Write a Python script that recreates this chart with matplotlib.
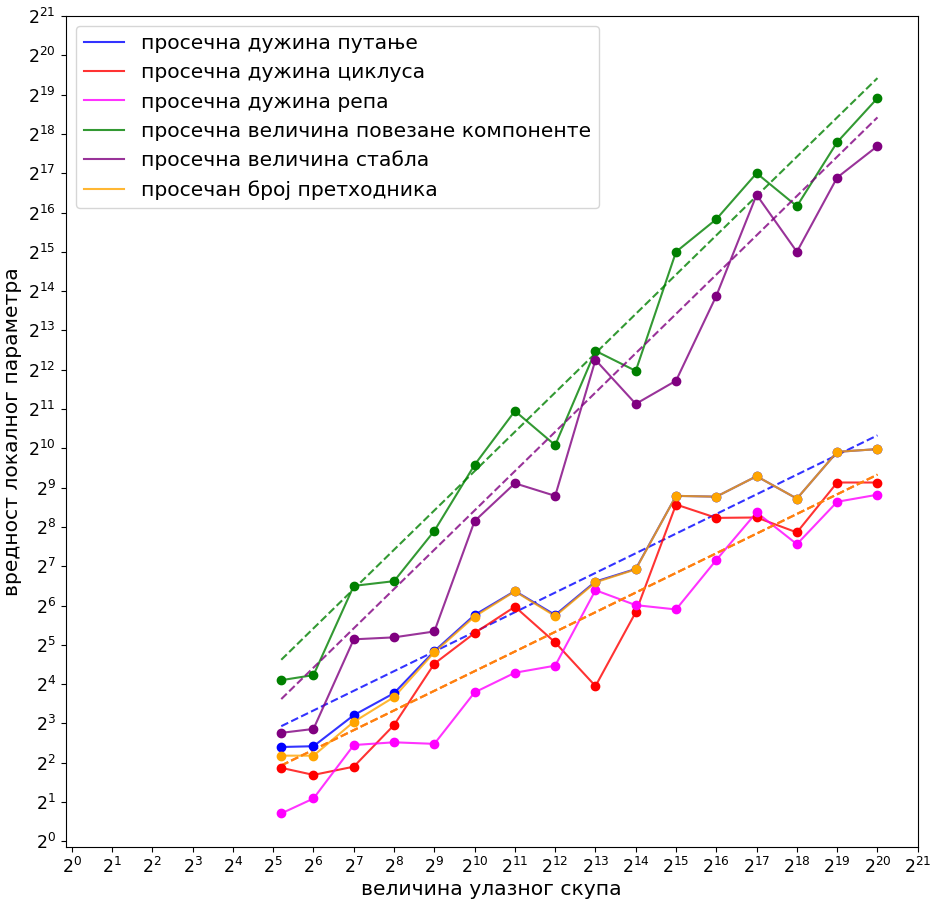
import numpy as np
import matplotlib
matplotlib.use('Agg')
import matplotlib.pyplot as plt

# ------ data (log2 of the measured averages) ------
sizes_log2 = [5.2, 6, 7, 8, 9, 10, 11, 12, 13, 14, 15, 16, 17, 18, 19, 20]

path_len = [2.40, 2.42, 3.21, 3.77, 4.84, 5.76, 6.37, 5.76, 6.61, 6.93, 8.79, 8.77, 9.29, 8.72, 9.91, 9.98]
cycle_len = [1.87, 1.69, 1.90, 2.96, 4.52, 5.30, 5.97, 5.06, 3.95, 5.83, 8.57, 8.23, 8.24, 7.86, 9.13, 9.13]
tail_len = [0.71, 1.09, 2.45, 2.52, 2.48, 3.79, 4.29, 4.47, 6.39, 6.01, 5.90, 7.16, 8.37, 7.56, 8.64, 8.82]
component_size = [4.10, 4.23, 6.50, 6.62, 7.90, 9.58, 10.95, 10.08, 12.48, 11.97, 15.00, 15.83, 17.00, 16.16, 17.79, 18.91]
tree_size = [2.76, 2.86, 5.14, 5.19, 5.34, 8.15, 9.11, 8.79, 12.25, 11.13, 11.72, 13.88, 16.45, 15.00, 16.89, 17.69]
predecessors = [2.18, 2.18, 3.04, 3.67, 4.81, 5.72, 6.36, 5.73, 6.59, 6.92, 8.79, 8.77, 9.29, 8.72, 9.91, 9.98]

# expected values (dashed), at the first and last input size
trend_x_log2 = [5.2, 20]
path_trend = [2.93, 10.33]
cycle_trend = [1.93, 9.33]
tail_trend = [1.93, 9.33]
component_trend = [4.62, 19.42]
tree_trend = [3.62, 18.42]
pred_trend = [1.93, 9.33]

labels = ['просечна дужина путање', 'просечна дужина циклуса', 'просечна дужина репа',
          'просечна величина повезане компоненте', 'просечна величина стабла',
          'просечан број претходника']
colors = ['blue', 'red', 'magenta', 'green', 'purple', 'orange']
# cycle, tail and predecessor expectations coincide, drawn in one colour
trend_colors = ['blue', '#ff7f0e', '#ff7f0e', 'green', 'purple', '#ff7f0e']

series = [path_len, cycle_len, tail_len, component_size, tree_size, predecessors]
trends = [path_trend, cycle_trend, tail_trend, component_trend, tree_trend, pred_trend]

x = 2.0 ** np.array(sizes_log2)
xt = 2.0 ** np.array(trend_x_log2)

fig = plt.figure(figsize=(9.34, 8.99), dpi=100)
ax = fig.add_axes([0.0703, 0.0575, 0.9123, 0.9247])
ax.set_xscale('log', base=2)
ax.set_yscale('log', base=2)

for s, t, lab, c, tc in zip(series, trends, labels, colors, trend_colors):
    y = 2.0 ** np.array(s)
    ax.plot(x, y, color=c, alpha=0.8, lw=1.5, label=lab)
    ax.scatter(x, y, color=c, s=36, zorder=3)
    ax.plot(xt, 2.0 ** np.array(t), '--', color=tc, alpha=0.8, lw=1.5)

ticks = [2.0 ** k for k in range(22)]
ax.set_xticks(ticks)
ax.set_yticks(ticks)
ax.set_xticklabels(['$2^{%d}$' % k for k in range(22)], fontsize=12.5)
ax.set_yticklabels(['$2^{%d}$' % k for k in range(22)], fontsize=12.5)
ax.minorticks_off()
ax.set_xlim(0.9, 2 ** 21)
ax.set_ylim(0.9, 2 ** 21)

ax.set_xlabel('величина улазног скупа', fontsize=14.6, labelpad=2)
ax.set_ylabel('вредност локалног параметра', fontsize=14.6)
ax.legend(loc='upper left', fontsize=14.6)

fig.savefig('out.png', dpi=100)
